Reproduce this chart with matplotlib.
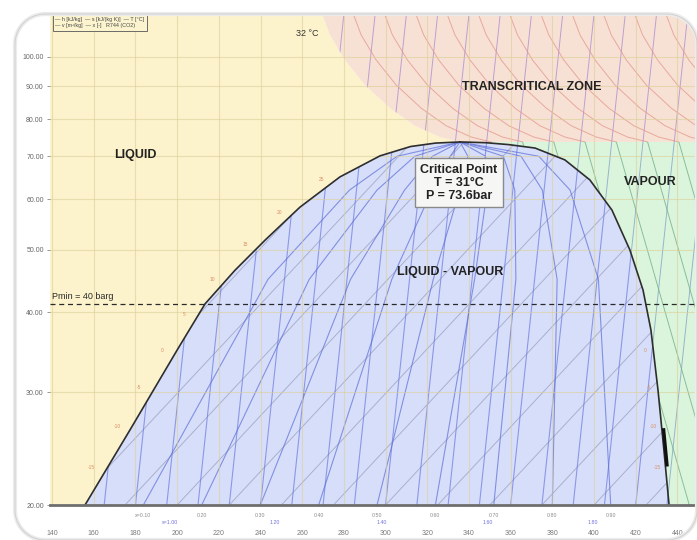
import numpy as np
import matplotlib
matplotlib.use("Agg")
import matplotlib.pyplot as plt
import matplotlib.transforms as mtransforms
from matplotlib.patches import Polygon, PathPatch
from matplotlib.path import Path
from matplotlib.ticker import NullLocator, NullFormatter

plt.rcParams['font.family'] = ['Liberation Sans', 'DejaVu Sans']

# --------------------------------
# DATA (enthalpy kJ/kg, pressure bar)
# --------------------------------
h_ticks = [140, 160, 180, 200, 220, 240, 260, 280, 300, 320, 340, 360, 380, 400, 420, 440]
p_ticks = [20, 30, 40, 50, 60, 70, 80, 90, 100]

# saturation dome
sat_liq_h = [155.8, 177.4, 200.0, 213.4, 227.8, 242.2, 258.9, 278.1, 297.3, 312.0, 324.0, 335.7]
sat_liq_p = [20.0, 26.2, 34.9, 41.2, 46.5, 51.8, 58.3, 65.0, 70.1, 72.5, 73.4, 73.7]
sat_vap_h = [335.7, 348.0, 359.0, 371.7, 386.0, 398.0, 408.6, 417.2, 423.5, 427.3, 430.7, 433.5, 436.0]
sat_vap_p = [73.7, 73.5, 73.0, 72.1, 69.1, 64.3, 57.7, 50.0, 43.3, 37.5, 30.2, 24.4, 20.0]

# 32 C isotherm = edge of transcritical zone
tc_h = [269.5, 273.3, 280.5, 290.1, 302.1, 314.1, 326.1, 335.7]
tc_p = [116.7, 108.2, 98.9, 90.4, 83.2, 78.1, 75.0, 73.7]

p_crit = 73.7
p_min = 41.2          # 40 barg
h_min, h_max = 139.0, 449.4
p_low, p_top = 20.0, 116.7

# quality lines x = 0.1 .. 0.9 (h at 20, 45, 62, 70 bar, then critical point)
quality_lbl = ["x=0.10", "0.20", "0.30", "0.40", "0.50", "0.60", "0.70", "0.80", "0.90"]
q_p = [20, 45, 62, 70, 73.7]
q_h20 = [183.8, 211.8, 239.9, 267.9, 295.9, 323.9, 351.9, 380.0, 408.0]
q_h45 = [243.6, 263.4, 283.2, 303.0, 322.9, 342.7, 362.5, 382.3, 402.1]
q_h62 = [282.7, 295.9, 309.1, 322.3, 335.6, 348.8, 362.0, 375.2, 388.5]
q_h70 = [305.5, 314.0, 322.5, 331.0, 339.5, 348.0, 356.5, 365.0, 373.5]

# isentropes (h at 20 bar -> h at top)
isen_lo = [165, 180, 195, 210, 225, 240, 255, 270, 285, 300, 315, 330, 345,
           360, 375, 390, 405, 420, 435, 450]
isen_hi = [190, 205, 220, 235, 250, 265, 280, 295, 310, 325, 340, 355, 370,
           385, 400, 415, 430, 445, 460, 475]
s_lbl = ["s=1.00", "1.20", "1.40", "1.60", "1.80"]
s_lbl_h = [196.6, 246.9, 298.2, 349.1, 399.5]

# isochores (h at 20 bar -> h at top)
isoch_lo = [125, 150, 175, 200, 225, 250, 275, 300, 325, 350, 375, 400, 425]
isoch_hi = [345, 370, 395, 420, 445, 470, 495, 520, 545, 570, 595, 620, 645]

# supercritical / vapour isotherms, offsets from the 32 C curve
iso_T_shift = [15, 30, 45, 60, 75, 90, 105, 120, 135, 150, 165, 180]

# saturation temperature labels
t_sat_lbl = ["-15", "-10", "-5", "0", "5", "10", "15", "20", "25"]
t_sat_p = [22.9, 26.5, 30.5, 34.9, 39.7, 45.0, 50.9, 57.3, 64.3]

# --------------------------------
# FIGURE
# --------------------------------
fig = plt.figure(figsize=(6.97, 5.40), dpi=100)
fig.patch.set_facecolor('white')
ax = fig.add_axes([50/697, 35/540, 647/697, 491/540])
ax.set_yscale('log')
ax.set_xlim(h_min, h_max)
ax.set_ylim(p_low, p_top)

# regions
liq_pts = [(h_min - 5, p_low * 0.95)] + list(zip(sat_liq_h, sat_liq_p)) \
    + list(zip(tc_h[-2::-1], tc_p[-2::-1])) + [(tc_h[0], p_top * 1.05), (h_min - 5, p_top * 1.05)]
dome_pts = list(zip(sat_liq_h, sat_liq_p)) + list(zip(sat_vap_h[1:], sat_vap_p[1:]))
dome_pts = [(sat_liq_h[0], p_low * 0.95)] + dome_pts + [(sat_vap_h[-1], p_low * 0.95)]
vap_pts = list(zip(sat_vap_h, sat_vap_p)) + [(sat_vap_h[-1], p_low * 0.95),
                                            (h_max + 5, p_low * 0.95), (h_max + 5, p_crit)]
tc_pts = list(zip(tc_h, tc_p)) + [(h_max + 5, p_crit), (h_max + 5, p_top * 1.05), (tc_h[0], p_top * 1.05)]

liq_patch = Polygon(liq_pts, closed=True, fc='#fcf3cc', ec='none', zorder=0.5)
dome_patch = Polygon(dome_pts, closed=True, fc='#d7defa', ec='none', zorder=0.5)
vap_patch = Polygon(vap_pts, closed=True, fc='#dbf5dc', ec='none', zorder=0.5)
tc_patch = Polygon(tc_pts, closed=True, fc='#f7e1d4', ec='none', zorder=0.5)
for pt in (liq_patch, dome_patch, vap_patch, tc_patch):
    ax.add_patch(pt)


def draw(hs, ps, color, clip, lw=0.7, alpha=0.75):
    ln, = ax.plot(hs, ps, color=color, lw=lw, alpha=alpha, zorder=1, solid_capstyle='butt')
    ln.set_clip_path(clip)


# isochores in the dome
for lo, hi in zip(isoch_lo, isoch_hi):
    draw([lo, hi], [p_low, p_top], '#8a92b2', dome_patch, lw=0.7, alpha=0.6)

# isentropes
for lo, hi in zip(isen_lo, isen_hi):
    draw([lo, hi], [p_low, p_top], '#6a7ade', dome_patch, lw=0.8, alpha=0.7)
    draw([lo, hi], [p_low, p_top], '#a98ad0', tc_patch, lw=0.7, alpha=0.75)
    draw([lo, hi], [p_low, p_top], '#7f9fc6', vap_patch, lw=0.7, alpha=0.75)

# isotherms above critical and in the vapour
for s in iso_T_shift:
    hs = [h + s for h in tc_h] + [tc_h[-1] + s + 50]
    ps = list(tc_p) + [p_low]
    draw(hs, ps, '#e3958a', tc_patch, lw=0.7, alpha=0.75)
    draw(hs, ps, '#74b08a', vap_patch, lw=0.7, alpha=0.8)

# quality lines
for i in range(len(q_h20)):
    hs = [q_h20[i], q_h45[i], q_h62[i], q_h70[i], sat_liq_h[-1]]
    draw(hs, q_p, '#5d6ed6', dome_patch, lw=0.8, alpha=0.7)

# grid
for h in h_ticks:
    ax.axvline(h, color='#dccf98', lw=0.8, alpha=0.6, zorder=1.5)
for p in p_ticks:
    ax.axhline(p, color='#dccf98', lw=0.8, alpha=0.6, zorder=1.5)

# dome outline
ax.plot(sat_liq_h, sat_liq_p, color='#2e2e2e', lw=1.2, zorder=2)
ax.plot(sat_vap_h, sat_vap_p, color='#2e2e2e', lw=1.2, zorder=2)
ax.plot([433.4, 435.0], [26.2, 23.1], color='#111111', lw=2.4, zorder=2)

# saturation temperature labels
liq_h_at = np.interp(t_sat_p, sat_liq_p, sat_liq_h)
vap_h_at = np.interp(t_sat_p, sat_vap_p[::-1], sat_vap_h[::-1])
for lbl, p, hl, hv in zip(t_sat_lbl, t_sat_p, liq_h_at, vap_h_at):
    ax.text(hl - 7, p, lbl, fontsize=3.5, color='#d98e64', ha='center', va='center', zorder=3)
    if p < 35:
        ax.text(hv - 4, p, lbl, fontsize=3.5, color='#d98e64', ha='center', va='center', zorder=3)

# Pmin line
ax.axhline(p_min, color='#2a2a2a', lw=0.9, ls=(0, (4, 3)), zorder=3)
ax.text(h_min + 0.8, p_min * 1.012, 'Pmin = 40 barg', fontsize=6.5, color='#2a2a2a',
        ha='left', va='bottom', zorder=4)

# zone labels
ax.text(179.8, 70.3, 'LIQUID', fontsize=9, fontweight='bold', color='#222',
        ha='center', va='center', zorder=4)
ax.text(370.2, 89.8, 'TRANSCRITICAL ZONE', fontsize=9, fontweight='bold', color='#222',
        ha='center', va='center', zorder=4)
ax.text(426.8, 63.8, 'VAPOUR', fontsize=9, fontweight='bold', color='#222',
        ha='center', va='center', zorder=4)
ax.text(330.9, 46.2, 'LIQUID - VAPOUR', fontsize=9, fontweight='bold', color='#222',
        ha='center', va='center', zorder=4)
ax.text(335.2, 63.6, 'Critical Point\nT = 31°C\nP = 73.6bar', fontsize=9, fontweight='bold',
        color='#222', ha='center', va='center', linespacing=1.1, zorder=4,
        bbox=dict(boxstyle='square,pad=0.45', fc='#f6f6f4', ec='#8a8a8a', lw=1.0))
ax.text(262.3, 108.9, '32 °C', fontsize=6.5, color='#333', ha='center', va='center', zorder=4)

# small legend box
ax.text(0.008, 0.994, '— h [kJ/kg]  — s [kJ/(kg K)]  — T [°C]\n— v [m³/kg]  — x [-]   R744 (CO2)',
        transform=ax.transAxes, fontsize=3.9, color='#444', ha='left', va='top', zorder=4,
        linespacing=1.3, bbox=dict(boxstyle='square,pad=0.45', fc='#fbf4cf', ec='#555', lw=0.6))

# bottom label rows
for lbl, h in zip(quality_lbl, q_h20):
    ax.text(h, -0.021, lbl, transform=ax.get_xaxis_transform(), fontsize=3.8,
            color='#8a8a8a', ha='center', va='center', clip_on=False)
for lbl, h in zip(s_lbl, s_lbl_h):
    ax.text(h, -0.035, lbl, transform=ax.get_xaxis_transform(), fontsize=3.8,
            color='#6f6fe0', ha='center', va='center', clip_on=False)

# axes styling
for side in ('top', 'right', 'left'):
    ax.spines[side].set_visible(False)
ax.spines['bottom'].set_color('#6e6e6e')
ax.spines['bottom'].set_linewidth(2.0)
ax.spines['bottom'].set_zorder(5)
ax.set_xticks(h_ticks)
ax.set_xticklabels([str(h) for h in h_ticks])
ax.tick_params(axis='x', length=0, pad=18, labelsize=5, labelcolor='#7a7a7a')
ax.yaxis.set_minor_locator(NullLocator())
ax.yaxis.set_minor_formatter(NullFormatter())
ax.set_yticks(p_ticks)
ax.set_yticklabels([f'{p:.2f}' for p in p_ticks])
ax.tick_params(axis='y', length=2.5, width=0.6, color='#888', pad=2, labelsize=5,
               labelcolor='#666')

# --------------------------------
# SCREENSHOT FRAME (rounded corners)
# --------------------------------
px = mtransforms.Affine2D().scale(1/697, -1/540).translate(0, 1) + fig.transFigure
x0, y0, x1, y1, r = 15, 14, 697, 540, 30
corners = [(x1 - r, y0 + r, -90, 0), (x1 - r, y1 - r, 0, 90),
           (x0 + r, y1 - r, 90, 180), (x0 + r, y0 + r, 180, 270)]
rr = []
for cx, cy, a0, a1 in corners:
    t = np.radians(np.linspace(a0, a1, 20))
    rr += list(zip(cx + r * np.cos(t), cy + r * np.sin(t)))
rr = np.array(rr)
outer = np.array([(-20, -20), (-20, 560), (720, 560), (720, -20), (-20, -20)])
verts = np.vstack([outer, rr, rr[:1]])
codes = [Path.MOVETO] + [Path.LINETO] * 3 + [Path.CLOSEPOLY] + \
    [Path.MOVETO] + [Path.LINETO] * (len(rr) - 1) + [Path.CLOSEPOLY]
mask = PathPatch(Path(verts, codes), fc='white', ec='none', transform=px, zorder=10)
fig.add_artist(mask)
ring = Path(np.vstack([rr, rr[:1]]), [Path.MOVETO] + [Path.LINETO] * (len(rr) - 1) + [Path.CLOSEPOLY])
fig.add_artist(PathPatch(ring, fc='none', ec='#ececec', lw=3.0, transform=px, zorder=11))
fig.add_artist(PathPatch(ring, fc='none', ec='#d2d2d2', lw=0.8, transform=px, zorder=12))

fig.savefig('out.png', dpi=100)
